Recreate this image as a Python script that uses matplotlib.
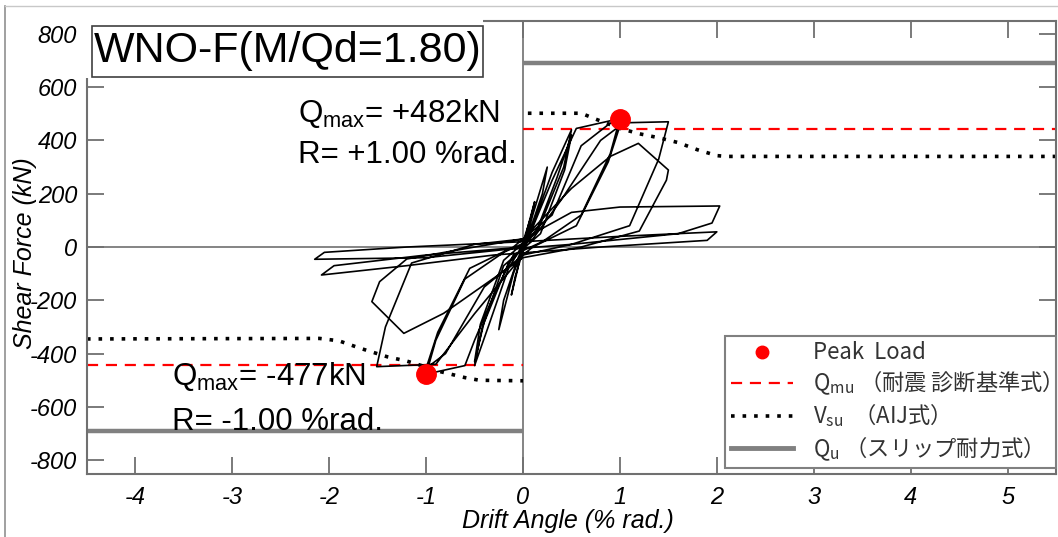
import matplotlib.pyplot as plt
import numpy as np
from matplotlib.lines import Line2D
from matplotlib.patches import Rectangle

# hysteresis loop (drift angle %rad, shear force kN)
drift = [0.0,
         0.06, 0.12, 0.08, 0.0, -0.06, -0.12, -0.08, 0.0,
         0.1, 0.25, 0.2, 0.05, -0.1, -0.25, -0.2, -0.05,
         0.1, 0.3, 0.5, 0.42, 0.15, 0.0, -0.15, -0.35, -0.5, -0.42, -0.15, 0.0,
         0.15, 0.35, 0.5, 0.43, 0.18, -0.2, -0.4, -0.5, -0.44, -0.2,
         0.05, 0.3, 0.55, 1.0, 0.9, 0.6, 0.2, -0.1, -0.3, -0.5, -0.6, -1.0, -0.9, -0.6, -0.2,
         0.1, 0.4, 0.8, 1.0, 0.88, 0.55, 0.1, -0.4, -0.8, -1.0, -0.88, -0.55, -0.1,
         0.3, 0.6, 0.9, 1.5, 1.4, 1.1, 0.5, 0.0, -0.5, -0.9, -1.51, -1.42, -1.15, -0.5, 0.0,
         0.5, 0.9, 1.19, 1.5, 1.48, 1.2, 0.6, 0.0, -0.82, -1.23, -1.56, -1.48, -1.2, -0.5, 0.0,
         0.5, 1.0, 2.03, 1.95, 1.6, 0.5, -0.2, -1.0, -2.15, -2.05, -1.2, 0.0,
         1.0, 2.0, 1.9, 0.8, -0.3, -1.2, -2.08, -1.95, -1.0, 0.0]
shear = [0,
         90, 170, 110, 20, -90, -180, -110, -15,
         120, 300, 200, 40, -100, -310, -200, -40,
         80, 280, 440, 300, 60, 10, -80, -290, -445, -300, -60, -5,
         70, 260, 420, 290, 50, -70, -280, -430, -290, -50,
         30, 250, 445, 482, 350, 120, 20, -30, -180, -350, -445, -477, -350, -120, -20,
         30, 180, 400, 455, 320, 80, 0, -150, -400, -455, -320, -80, 0,
         120, 380, 465, 470, 330, 80, 10, -30, -250, -440, -449, -300, -60, 10, 30,
         220, 340, 389, 289, 251, 60, 0, -40, -249, -324, -205, -130, -45, 0, 30,
         130, 150, 154, 90, 50, 10, -10, -40, -46, -20, 0, 20,
         40, 57, 25, 0, -30, -70, -105, -70, -30, 0]

peak_x = [1.0, -1.0]
peak_y = [482, -477]

qmu = 442
qu = 689

vsu_pos_x = [0.05, 0.6, 0.75, 1.0, 1.2, 1.4, 1.6, 1.8, 2.0, 2.1, 5.5]
vsu_pos_y = [502, 502, 480, 445, 425, 410, 392, 365, 343, 340, 340]
vsu_neg_x = [-4.5, -2.1, -1.9, -1.68, -1.4, -1.2, -1.0, -0.85, -0.6, -0.45, 0.0]
vsu_neg_y = [-345, -343, -352, -380, -412, -428, -450, -468, -490, -500, -502]

xticks = [-4, -3, -2, -1, 0, 1, 2, 3, 4, 5]
yticks = [-800, -600, -400, -200, 0, 200, 400, 600, 800]

grey = '#707070'
latin = 'Liberation Sans'
jp = 'Noto Sans CJK JP'

fig = plt.figure(figsize=(10.58, 5.37), dpi=100)
ax = fig.add_axes([0.0822, 0.1182, 0.9159, 0.8436])

ax.axhline(0, color=grey, lw=1.2, zorder=1)
ax.axvline(0, color=grey, lw=1.2, zorder=1)

ax.plot(drift, shear, color='black', lw=1.2, zorder=3)

ax.plot([0, 5.5], [qmu, qmu], color='red', lw=1.6, ls=(0, (5, 3.5)), zorder=2)
ax.plot([-4.5, 0], [-qmu, -qmu], color='red', lw=1.6, ls=(0, (5, 3.5)), zorder=2)

ax.plot(vsu_pos_x, vsu_pos_y, color='black', lw=2.6, ls=(0, (1, 2.2)), zorder=2)
ax.plot(vsu_neg_x, vsu_neg_y, color='black', lw=2.6, ls=(0, (1, 2.2)), zorder=2)

ax.plot([0, 5.5], [qu, qu], color='#808080', lw=3.2, zorder=2, solid_capstyle='butt')
ax.plot([-4.5, 0], [-qu, -qu], color='#808080', lw=3.2, zorder=2, solid_capstyle='butt')

ax.plot(peak_x, peak_y, 'o', color='red', markersize=14, zorder=6)

ax.text(-2.32, 469, r'Q$_{\mathregular{max}}$= +482kN', family=latin, fontsize=22.5, va='baseline')
ax.text(-2.32, 315, 'R= +1.00 %rad.', family=latin, fontsize=22.5, va='baseline')
ax.text(-3.62, -518, r'Q$_{\mathregular{max}}$= -477kN', family=latin, fontsize=22.5, va='baseline')
ax.text(-3.62, -687, 'R= -1.00 %rad.', family=latin, fontsize=22.5, va='baseline')

ax.set_xlim(-4.5, 5.5)
ax.set_ylim(-850, 850)
tick_font = {'family': latin, 'style': 'italic', 'size': 17}
ax.set_xticks(xticks)
ax.set_xticklabels([str(v) for v in xticks], fontdict=tick_font)
ax.set_yticks(yticks)
ax.set_yticklabels([str(v) for v in yticks], fontdict=tick_font)
ax.tick_params(direction='in', length=12, width=1.3, color=grey, top=True, right=True, pad=7)
ax.tick_params(axis='x', pad=9)
for sp in ax.spines.values():
    sp.set_color(grey)
    sp.set_linewidth(1.5)

ax.set_xlabel('Drift Angle (% rad.)', family=latin, style='italic', fontsize=18)
ax.set_ylabel('Shear Force (kN)', family=latin, style='italic', fontsize=18)
ax.xaxis.set_label_coords(0.496, -0.079)
ax.yaxis.set_label_coords(-0.052, 0.487)

# title box (hides the spine behind it)
ax.add_patch(Rectangle((-0.003, 0.873), 0.412, 0.135, transform=ax.transAxes,
                       facecolor='white', edgecolor='none', zorder=7, clip_on=False))
ax.add_patch(Rectangle((0.0052, 0.875), 0.4035, 0.113, transform=ax.transAxes,
                       facecolor='none', edgecolor='#404040', lw=1.2, zorder=8, clip_on=False))
ax.text(0.207, 0.9316, 'WNO-F(M/Qd=1.80)', transform=ax.transAxes, family=latin,
        fontsize=31, ha='center', va='center', zorder=9)

handles = [
    Line2D([], [], marker='o', color='red', ls='none', markersize=9),
    Line2D([], [], color='red', lw=1.6, ls=(0, (5, 3.5))),
    Line2D([], [], color='black', lw=2.6, ls=(0, (1, 2.2))),
    Line2D([], [], color='#808080', lw=3.5),
]
labels = ['Peak  Load',
          r'Q$_{\mathregular{mu}}$ （耐震 診断基準式）',
          r'V$_{\mathregular{su}}$  （AIJ式）',
          r'Q$_{\mathregular{u}}$ （スリップ耐力式）']
leg = ax.legend(handles, labels, loc='lower right', bbox_to_anchor=(1.0, 0.012),
                borderaxespad=0, prop={'family': jp, 'size': 16}, frameon=True,
                fancybox=False, edgecolor='#808080', framealpha=1,
                handlelength=2.8, handletextpad=0.9, labelspacing=0.2, borderpad=0.25)
leg.get_frame().set_linewidth(1.5)
for t in leg.get_texts():
    t.set_color('#333333')

fig.add_artist(Line2D([5 / 1058, 5 / 1058], [0, 1 - 6 / 537], color='#909090', lw=1.2))
fig.add_artist(Line2D([5 / 1058, 1], [1 - 6 / 537, 1 - 6 / 537], color='#c8c8c8', lw=1))

fig.savefig('out.png', dpi=100)
